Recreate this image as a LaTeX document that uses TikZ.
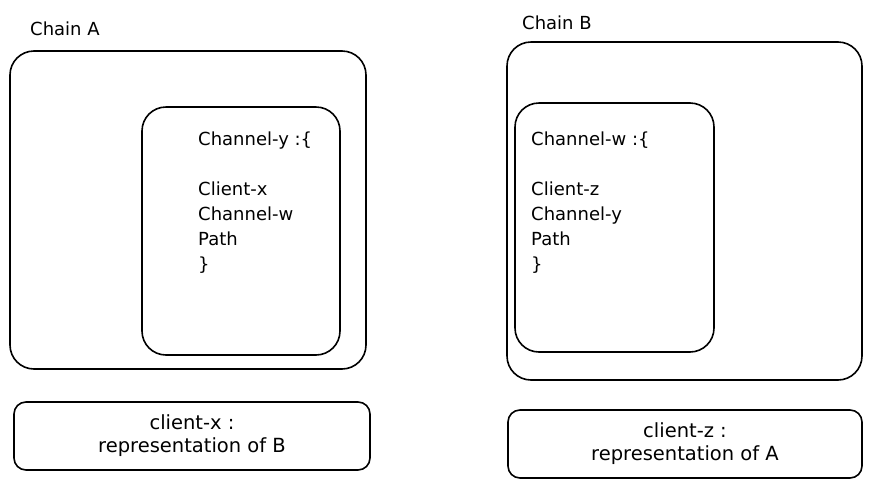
\documentclass[tikz,border=0pt]{standalone}
\usepackage{fontspec}
\setmainfont{DejaVu Sans}
\tikzset{
    chainbox/.style={draw, line width=1.6pt, rounded corners=24pt, inner sep=0pt},
    clientbox/.style={draw, line width=1.6pt, rounded corners=12pt, inner sep=0pt,
        align=center, font=\fontsize{19.5}{23}\selectfont},
    channeltext/.style={anchor=north west, inner sep=0pt, align=left,
        font=\fontsize{18}{25}\selectfont},
    chainlabel/.style={anchor=base west, inner sep=0pt, font=\fontsize{18}{20}\selectfont}
}
\begin{document}
\begin{tikzpicture}[x=1pt, y=-1pt]
        \useasboundingbox (0, 0) rectangle (873, 488);
        \node[chainlabel] (labelA) at (30, 35) {Chain A};
        \node[chainbox, minimum width=356pt, minimum height=318pt] (chainA) at (188, 210) {};
        \node[chainbox, minimum width=198pt, minimum height=248pt] (channelY) at (241, 231) {};
        \node[channeltext] (textY) at (198, 132) {Channel-y :\{\\[25pt]Client-x\\Channel-w\\Path\\\}};
        \node[chainlabel] (labelB) at (522, 29) {Chain B};
        \node[chainbox, minimum width=355pt, minimum height=338pt] (chainB) at (684.5, 211) {};
        \node[chainbox, minimum width=199pt, minimum height=249pt] (channelW) at (614.5, 227.5) {};
        \node[channeltext] (textW) at (531, 132) {Channel-w :\{\\[25pt]Client-z\\Channel-y\\Path\\\}};
        \node[clientbox, minimum width=356pt, minimum height=68pt] (clientX) at (192, 436) {client-x :\\representation of B};
        \node[clientbox, minimum width=354pt, minimum height=68pt] (clientZ) at (685, 444) {client-z :\\representation of A};
    \end{tikzpicture}
\end{document}
